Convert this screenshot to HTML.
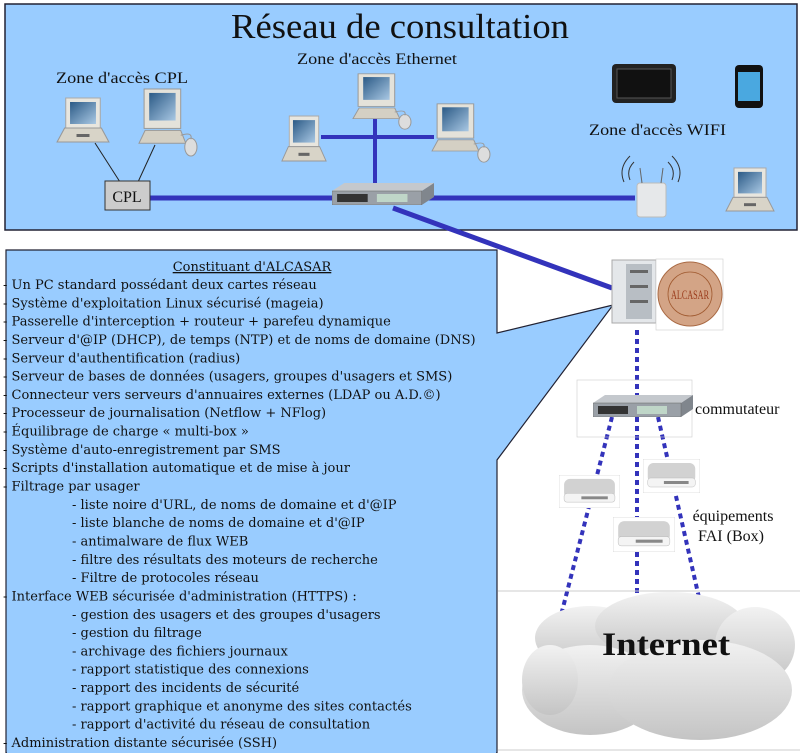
<!DOCTYPE html>
<html><head><meta charset="utf-8"><style>
html,body{margin:0;padding:0;background:#fff;}
svg{display:block;}
.t{font-family:"DejaVu Serif",serif;font-size:13px;fill:#111;}
.l{font-family:"Liberation Serif",serif;font-size:16px;fill:#111;}
</style></head><body>
<svg width="800" height="753" viewBox="0 0 800 753" xmlns="http://www.w3.org/2000/svg">
<defs>
<linearGradient id="cl" x1="0" y1="0" x2="0" y2="1"><stop offset="0" stop-color="#f2f2f2"/><stop offset="1" stop-color="#c4c4c4"/></linearGradient>
<linearGradient id="scr" x1="0" y1="0" x2="1" y2="1"><stop offset="0" stop-color="#2b5a86"/><stop offset="1" stop-color="#a9c8e4"/></linearGradient>
<symbol id="lap" viewBox="0 0 50 46" preserveAspectRatio="none"><rect x="9" y="1" width="32" height="30" fill="#e8e6df" stroke="#aaa"/><rect x="13" y="5" width="24" height="22" fill="url(#scr)"/><path d="M1 45 L8 31 L42 31 L49 45 Z" fill="#d8d4c8" stroke="#999"/><rect x="19" y="37" width="12" height="3" fill="#666"/></symbol>
<symbol id="desk" viewBox="0 0 60 70" preserveAspectRatio="none"><rect x="6" y="1" width="36" height="40" fill="#e4e2da" stroke="#999"/><rect x="11" y="5" width="26" height="28" fill="url(#scr)"/><path d="M1 56 L7 43 L42 43 L47 56 Z" fill="#d4d0c4" stroke="#999"/><ellipse cx="52" cy="60" rx="6" ry="9" fill="#ddd" stroke="#999"/><path d="M42 48 Q54 44 52 52" fill="none" stroke="#999"/></symbol>
<symbol id="sw" viewBox="0 0 100 22" preserveAspectRatio="none"><path d="M0 8 L12 0 L100 0 L88 8 Z" fill="#c4c8cd"/><path d="M88 8 L100 0 L100 14 L88 22 Z" fill="#80868d"/><rect x="0" y="8" width="88" height="14" fill="#9aa0a7" stroke="#666" stroke-width=".5"/><rect x="5" y="11" width="30" height="8" fill="#333"/><rect x="44" y="11" width="30" height="8" fill="#bfd6c8"/></symbol>
<symbol id="box" viewBox="0 0 60 34" preserveAspectRatio="none"><rect x="0" y="0" width="60" height="34" fill="#fff" stroke="#ccc" stroke-width=".6"/><rect x="5" y="4" width="50" height="20" rx="6" fill="#d2d2d2"/><rect x="5" y="19" width="50" height="9" rx="3" fill="#f4f4f4" stroke="#bbb" stroke-width=".5"/><rect x="22" y="22" width="26" height="3" fill="#888"/></symbol>
</defs>
<rect x="5" y="4" width="792" height="226" fill="#99ccff" stroke="#223" stroke-width="1.5"/>
<text x="400" y="38" text-anchor="middle" font-family="Liberation Serif,serif" font-size="35" fill="#111" textLength="338" lengthAdjust="spacingAndGlyphs">Réseau de consultation</text>
<text class="l" x="56" y="83" textLength="132" lengthAdjust="spacingAndGlyphs">Zone d'accès CPL</text>
<text class="l" x="297" y="64" textLength="160" lengthAdjust="spacingAndGlyphs">Zone d'accès Ethernet</text>
<text class="l" x="589" y="135" textLength="137" lengthAdjust="spacingAndGlyphs">Zone d'accès WIFI</text>
<line x1="95" y1="143" x2="120" y2="182" stroke="#222"/><line x1="155" y1="145" x2="138" y2="182" stroke="#222"/>
<line x1="150" y1="198" x2="635" y2="198" stroke="#3333bb" stroke-width="5"/>
<line x1="375" y1="117" x2="375" y2="190" stroke="#3333bb" stroke-width="4"/>
<line x1="321" y1="137" x2="434" y2="137" stroke="#3333bb" stroke-width="4"/>
<line x1="393" y1="208" x2="612" y2="288" stroke="#3333bb" stroke-width="5"/>
<use href="#lap" x="56" y="97" width="54" height="46"/>
<use href="#desk" x="138" y="88" width="61" height="69"/>
<use href="#lap" x="281" y="115" width="46" height="47"/>
<use href="#desk" x="352" y="73" width="61" height="57"/>
<use href="#desk" x="431" y="103" width="61" height="60"/>
<rect x="105" y="181" width="45" height="29" fill="#ccc" stroke="#333"/>
<text class="l" x="127" y="202" text-anchor="middle">CPL</text>
<use href="#sw" x="332" y="183" width="102" height="22"/>
<rect x="612" y="64" width="64" height="39" rx="4" fill="#222"/><rect x="617" y="69" width="54" height="29" fill="#111" stroke="#555"/>
<rect x="735" y="65" width="28" height="43" rx="4" fill="#111"/><rect x="738" y="72" width="22" height="29" fill="#4aa8e0"/>
<rect x="637" y="183" width="29" height="34" rx="3" fill="#e6e8ea" stroke="#bbb"/>
<path d="M630 180 Q626 170 634 162 M624 182 Q618 168 630 156 M672 180 Q676 170 668 162 M678 182 Q684 168 672 156" fill="none" stroke="#333"/>
<line x1="642" y1="183" x2="640" y2="168" stroke="#666"/><line x1="661" y1="183" x2="663" y2="168" stroke="#666"/>
<use href="#lap" x="725" y="167" width="50" height="45"/>
<path d="M6 250 L497 250 L497 333 L613 305 L497 460 L497 753 L6 753 Z" fill="#99ccff" stroke="#223" stroke-width="1.2"/>
<rect x="7" y="752" width="489" height="2" fill="#99ccff"/>
<rect x="612" y="260" width="44" height="63" fill="#e4e7ea" stroke="#aaa"/><rect x="626" y="264" width="26" height="55" fill="#b8bec4"/>
<rect x="630" y="270" width="18" height="3" fill="#666"/><rect x="630" y="285" width="18" height="3" fill="#666"/><rect x="630" y="300" width="18" height="3" fill="#666"/>
<rect x="656" y="259" width="67" height="71" fill="#fff" stroke="#ccc" stroke-width=".6"/>
<circle cx="690" cy="294" r="32" fill="#d3a486" stroke="#aa6a44"/><circle cx="690" cy="294" r="22" fill="none" stroke="#a05a30" stroke-width=".8"/>
<text x="690" y="299" text-anchor="middle" font-family="Liberation Serif,serif" font-size="13" fill="#9a3a1a" textLength="38" lengthAdjust="spacingAndGlyphs">ALCASAR</text>
<g stroke="#3333bb" stroke-width="4" stroke-dasharray="5 4" fill="none">
<line x1="637" y1="330" x2="637" y2="395"/>
<line x1="612" y1="417" x2="558" y2="627"/>
<line x1="637" y1="417" x2="637" y2="600"/>
<line x1="658" y1="417" x2="700" y2="602"/>
</g>
<rect x="577" y="380" width="115" height="57" fill="none" stroke="#ccc" stroke-width=".6"/>
<use href="#sw" x="593" y="395" width="100" height="22"/>
<text class="l" x="695" y="414" font-size="15">commutateur</text>
<use href="#box" x="559" y="475" width="61" height="33"/>
<use href="#box" x="613" y="517" width="62" height="35"/>
<use href="#box" x="643" y="459" width="57" height="34"/>
<text class="l" x="733" y="521" text-anchor="middle">équipements</text>
<text class="l" x="731" y="541" text-anchor="middle">FAI (Box)</text>
<line x1="498" y1="591" x2="800" y2="591" stroke="#ccc"/><line x1="498" y1="750" x2="800" y2="750" stroke="#ccc"/>
<g fill="url(#cl)">
<ellipse cx="590" cy="638" rx="55" ry="32"/><ellipse cx="670" cy="626" rx="75" ry="34"/><ellipse cx="755" cy="645" rx="40" ry="38"/>
<ellipse cx="590" cy="690" rx="68" ry="45"/><ellipse cx="700" cy="690" rx="92" ry="50"/><ellipse cx="550" cy="680" rx="28" ry="35"/>
</g>
<text x="666" y="655" text-anchor="middle" font-family="Liberation Serif,serif" font-weight="bold" font-size="33" fill="#111" textLength="128" lengthAdjust="spacingAndGlyphs">Internet</text>
<g class="t">
<text x="252" y="271" text-anchor="middle" text-decoration="underline">Constituant d'ALCASAR</text>
<text x="3" y="289">- Un PC standard possédant deux cartes réseau</text>
<text x="3" y="307.3">- Système d'exploitation Linux sécurisé (mageia)</text>
<text x="3" y="325.6">- Passerelle d'interception + routeur + parefeu dynamique</text>
<text x="3" y="344">- Serveur d'@IP (DHCP), de temps (NTP) et de noms de domaine (DNS)</text>
<text x="3" y="362.3">- Serveur d'authentification (radius)</text>
<text x="3" y="380.6">- Serveur de bases de données (usagers, groupes d'usagers et SMS)</text>
<text x="3" y="398.9">- Connecteur vers serveurs d'annuaires externes (LDAP ou A.D.©)</text>
<text x="3" y="417.2">- Processeur de journalisation (Netflow + NFlog)</text>
<text x="3" y="435.6">- Équilibrage de charge « multi-box »</text>
<text x="3" y="453.9">- Système d'auto-enregistrement par SMS</text>
<text x="3" y="472.2">- Scripts d'installation automatique et de mise à jour</text>
<text x="3" y="490.5">- Filtrage par usager</text>
<text x="72" y="508.8">- liste noire d'URL, de noms de domaine et d'@IP</text>
<text x="72" y="527.2">- liste blanche de noms de domaine et d'@IP</text>
<text x="72" y="545.5">- antimalware de flux WEB</text>
<text x="72" y="563.8">- filtre des résultats des moteurs de recherche</text>
<text x="72" y="582.1">- Filtre de protocoles réseau</text>
<text x="3" y="600.4">- Interface WEB sécurisée d'administration (HTTPS) :</text>
<text x="72" y="618.8">- gestion des usagers et des groupes d'usagers</text>
<text x="72" y="637.1">- gestion du filtrage</text>
<text x="72" y="655.4">- archivage des fichiers journaux</text>
<text x="72" y="673.7">- rapport statistique des connexions</text>
<text x="72" y="692">- rapport des incidents de sécurité</text>
<text x="72" y="710.4">- rapport graphique et anonyme des sites contactés</text>
<text x="72" y="728.7">- rapport d'activité du réseau de consultation</text>
<text x="3" y="747">- Administration distante sécurisée (SSH)</text>
</g>
</svg>
</body></html>
